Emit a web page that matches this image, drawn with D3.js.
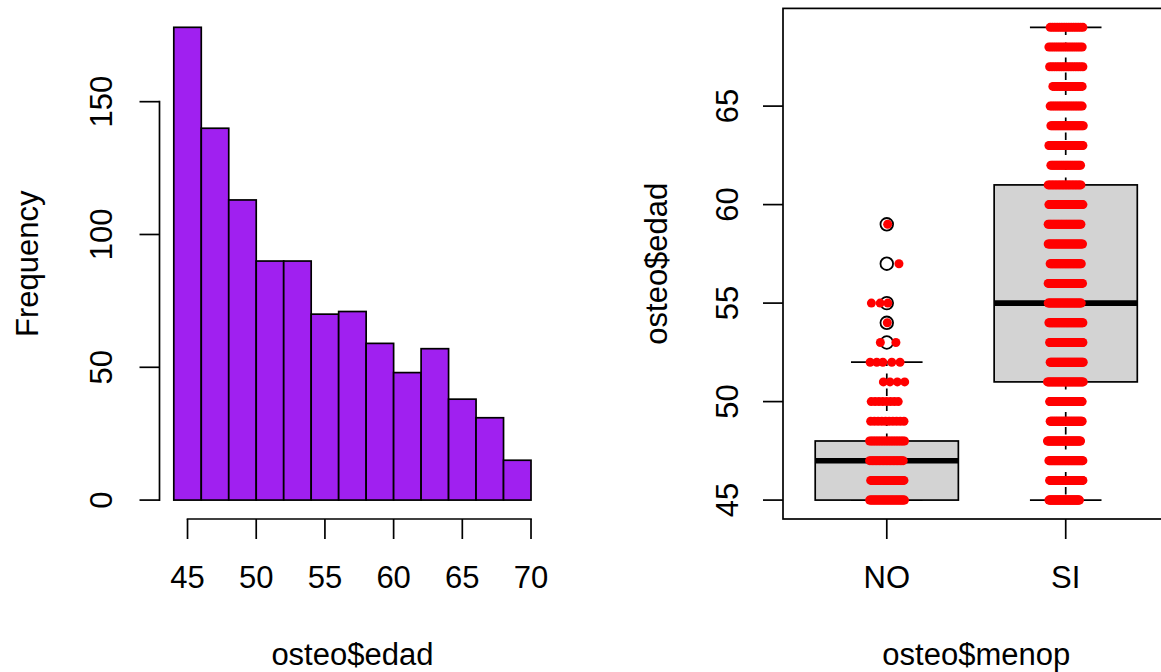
<!DOCTYPE html>
<html>
<head>
<meta charset="utf-8">
<script src="https://cdn.jsdelivr.net/npm/d3@7"></script>
<style>
  html, body { margin: 0; padding: 0; background: #ffffff; }
  svg { display: block; }
  text { font-family: "Liberation Sans", Arial, Helvetica, sans-serif; fill: #000; }
</style>
</head>
<body>
<svg id="chart" width="1161" height="672"></svg>
<script>
// ---------------- DATA ----------------
// Histogram of osteo$edad
const histBreaks = [44, 46, 48, 50, 52, 54, 56, 58, 60, 62, 64, 66, 68, 70];
const histCounts = [178, 140, 113, 90, 90, 70, 71, 59, 48, 57, 38, 31, 15];
const histXTicks = [45, 50, 55, 60, 65, 70];
const histYTicks = [0, 50, 100, 150];

// Boxplot of osteo$edad ~ osteo$menop
const groups = ["NO", "SI"];
const boxLower  = [45, 45];
const boxQ1     = [45, 51];
const boxMedian = [47, 55];
const boxQ3     = [48, 61];
const boxUpper  = [52, 69];
const noOutliers = [53, 54, 55, 57, 59];
const boxYTicks = [45, 50, 55, 60, 65];

// Stripchart points (jittered), group NO: dense rows (count, jitter span)
const noAges   = [45, 46, 47, 48, 49, 50];
const noCounts = [40, 30, 25, 22, 10, 8];
const noJitLo  = [-0.096, -0.090, -0.096, -0.096, -0.090, -0.087];
const noJitHi  = [0.099, 0.096, 0.092, 0.099, 0.096, 0.064];
// group NO: sparse rows, individual jitter offsets
const noSparseAges = [51, 51, 51, 51, 52, 52, 52, 52, 52, 53, 53, 54, 55, 55, 55, 57, 59];
const noSparseJit  = [-0.019, 0.018, 0.059, 0.100, -0.093, -0.056, -0.022, 0.028, 0.074,
                      -0.036, 0.051, 0.003, -0.086, -0.037, 0.006, 0.068, 0.005];

// group SI: dense rows
const siAges   = [45, 46, 47, 48, 49, 50, 51, 52, 53, 54, 55, 56, 57, 58, 59, 60, 61, 62, 63, 64, 65, 66, 67, 68, 69];
const siCounts = [54, 54, 47, 46, 48, 47, 40, 40, 43, 44, 33, 34, 35, 35, 29, 29, 24, 24, 28, 29, 19, 19, 15, 16, 15];
const siJitLo  = [-0.094, -0.090, -0.094, -0.102, -0.087, -0.090, -0.102, -0.087, -0.090, -0.094,
                  -0.098, -0.098, -0.087, -0.098, -0.098, -0.094, -0.098, -0.083, -0.094, -0.083,
                  -0.087, -0.072, -0.090, -0.094, -0.087];
const siJitHi  = [0.077, 0.096, 0.096, 0.083, 0.092, 0.092, 0.098, 0.098, 0.096, 0.096,
                  0.087, 0.094, 0.087, 0.094, 0.085, 0.096, 0.085, 0.083, 0.096, 0.098,
                  0.092, 0.092, 0.096, 0.092, 0.096];

// ---------------- LAYOUT ----------------
const svg = d3.select("#chart");
const FONT = 31;
const LW = 1.7;
const TICK = 20;

const p1 = { left: 159.5, right: 545.3, top: 8.4, bottom: 519 };
const p2 = { left: 783, right: 1169.5, top: 8.4, bottom: 519 };

function ext(lo, hi) { const d = (hi - lo) * 0.04; return [lo - d, hi + d]; }

// ---------------- HISTOGRAM ----------------
const hx = d3.scaleLinear().domain(ext(histBreaks[0], histBreaks[histBreaks.length - 1])).range([p1.left, p1.right]);
const hy = d3.scaleLinear().domain(ext(0, d3.max(histCounts))).range([p1.bottom, p1.top]);

const g1 = svg.append("g");
g1.selectAll("rect.bar").data(histCounts).enter().append("rect")
  .attr("class", "bar")
  .attr("x", (d, i) => hx(histBreaks[i]))
  .attr("width", (d, i) => hx(histBreaks[i + 1]) - hx(histBreaks[i]))
  .attr("y", d => hy(d))
  .attr("height", d => hy(0) - hy(d))
  .attr("fill", "#A020F0")
  .attr("stroke", "#000")
  .attr("stroke-width", LW);

// y axis
g1.append("line")
  .attr("x1", p1.left).attr("x2", p1.left)
  .attr("y1", hy(histYTicks[0])).attr("y2", hy(histYTicks[histYTicks.length - 1]))
  .attr("stroke", "#000").attr("stroke-width", LW).attr("stroke-linecap", "square");
g1.selectAll("line.yt").data(histYTicks).enter().append("line")
  .attr("x1", p1.left - TICK).attr("x2", p1.left)
  .attr("y1", d => hy(d)).attr("y2", d => hy(d))
  .attr("stroke", "#000").attr("stroke-width", LW);
g1.selectAll("text.yl").data(histYTicks).enter().append("text")
  .attr("transform", d => `translate(112,${hy(d)}) rotate(-90)`)
  .attr("text-anchor", "middle")
  .attr("font-size", FONT)
  .text(d => d);

// x axis
g1.append("line")
  .attr("x1", hx(histXTicks[0])).attr("x2", hx(histXTicks[histXTicks.length - 1]))
  .attr("y1", p1.bottom).attr("y2", p1.bottom)
  .attr("stroke", "#000").attr("stroke-width", LW).attr("stroke-linecap", "square");
g1.selectAll("line.xt").data(histXTicks).enter().append("line")
  .attr("x1", d => hx(d)).attr("x2", d => hx(d))
  .attr("y1", p1.bottom).attr("y2", p1.bottom + TICK)
  .attr("stroke", "#000").attr("stroke-width", LW);
g1.selectAll("text.xl").data(histXTicks).enter().append("text")
  .attr("x", d => hx(d)).attr("y", 588)
  .attr("text-anchor", "middle")
  .attr("font-size", FONT)
  .text(d => d);

g1.append("text")
  .attr("x", (p1.left + p1.right) / 2).attr("y", 665)
  .attr("text-anchor", "middle").attr("font-size", FONT)
  .text("osteo$edad");
g1.append("text")
  .attr("transform", `translate(38,${(p1.top + p1.bottom) / 2}) rotate(-90)`)
  .attr("text-anchor", "middle").attr("font-size", FONT)
  .text("Frequency");

// ---------------- BOXPLOT ----------------
const bx = d3.scaleLinear().domain(ext(0.5, 2.5)).range([p2.left, p2.right]);
const by = d3.scaleLinear().domain(ext(45, 69)).range([p2.bottom, p2.top]);
const unit = bx(1) - bx(0);
const boxW = 0.8 * unit;
const capW = 0.4 * unit;

const g2 = svg.append("g");
groups.forEach((grp, i) => {
  const cx = bx(i + 1);
  // whiskers (dashed)
  g2.append("line")
    .attr("x1", cx).attr("x2", cx)
    .attr("y1", by(boxQ3[i])).attr("y2", by(boxUpper[i]))
    .attr("stroke", "#000").attr("stroke-width", LW).attr("stroke-dasharray", "7.5,7.5");
  g2.append("line")
    .attr("x1", cx).attr("x2", cx)
    .attr("y1", by(boxQ1[i])).attr("y2", by(boxLower[i]))
    .attr("stroke", "#000").attr("stroke-width", LW).attr("stroke-dasharray", "7.5,7.5");
  // staples
  [boxUpper[i], boxLower[i]].forEach(v => {
    g2.append("line")
      .attr("x1", cx - capW / 2).attr("x2", cx + capW / 2)
      .attr("y1", by(v)).attr("y2", by(v))
      .attr("stroke", "#000").attr("stroke-width", LW);
  });
  // box
  g2.append("rect")
    .attr("x", cx - boxW / 2).attr("width", boxW)
    .attr("y", by(boxQ3[i])).attr("height", by(boxQ1[i]) - by(boxQ3[i]))
    .attr("fill", "#D3D3D3").attr("stroke", "#000").attr("stroke-width", LW);
  // median
  g2.append("line")
    .attr("x1", cx - boxW / 2).attr("x2", cx + boxW / 2)
    .attr("y1", by(boxMedian[i])).attr("y2", by(boxMedian[i]))
    .attr("stroke", "#000").attr("stroke-width", 5.6);
});
// outliers
g2.selectAll("circle.out").data(noOutliers).enter().append("circle")
  .attr("cx", bx(1)).attr("cy", d => by(d)).attr("r", 6.3)
  .attr("fill", "none").attr("stroke", "#000").attr("stroke-width", 1.8);

// frame
g2.append("rect")
  .attr("x", p2.left).attr("y", p2.top)
  .attr("width", p2.right - p2.left).attr("height", p2.bottom - p2.top)
  .attr("fill", "none").attr("stroke", "#000").attr("stroke-width", LW);

// y axis ticks + labels
g2.selectAll("line.yt").data(boxYTicks).enter().append("line")
  .attr("x1", p2.left - TICK).attr("x2", p2.left)
  .attr("y1", d => by(d)).attr("y2", d => by(d))
  .attr("stroke", "#000").attr("stroke-width", LW);
g2.selectAll("text.yl").data(boxYTicks).enter().append("text")
  .attr("transform", d => `translate(738,${by(d)}) rotate(-90)`)
  .attr("text-anchor", "middle").attr("font-size", FONT)
  .text(d => d);
// x axis ticks + labels
g2.selectAll("line.xt").data(groups).enter().append("line")
  .attr("x1", (d, i) => bx(i + 1)).attr("x2", (d, i) => bx(i + 1))
  .attr("y1", p2.bottom).attr("y2", p2.bottom + TICK)
  .attr("stroke", "#000").attr("stroke-width", LW);
g2.selectAll("text.xl").data(groups).enter().append("text")
  .attr("x", (d, i) => bx(i + 1)).attr("y", 588)
  .attr("text-anchor", "middle").attr("font-size", FONT)
  .text(d => d);

g2.append("text")
  .attr("x", (p2.left + p2.right) / 2).attr("y", 665)
  .attr("text-anchor", "middle").attr("font-size", FONT)
  .text("osteo$menop");
g2.append("text")
  .attr("transform", `translate(667,${(p2.top + p2.bottom) / 2}) rotate(-90)`)
  .attr("text-anchor", "middle").attr("font-size", FONT)
  .text("osteo$edad");

// ---------------- STRIPCHART POINTS ----------------
const pts = [];
function addRows(groupIndex, ages, counts, lo, hi) {
  ages.forEach((a, k) => {
    const n = counts[k];
    for (let j = 0; j < n; j++) {
      const t = n === 1 ? 0.5 : j / (n - 1);
      pts.push({ g: groupIndex, age: a, jit: lo[k] + (hi[k] - lo[k]) * t });
    }
  });
}
addRows(1, noAges, noCounts, noJitLo, noJitHi);
noSparseAges.forEach((a, k) => pts.push({ g: 1, age: a, jit: noSparseJit[k] }));
addRows(2, siAges, siCounts, siJitLo, siJitHi);

g2.selectAll("circle.pt").data(pts).enter().append("circle")
  .attr("cx", d => bx(d.g + d.jit))
  .attr("cy", d => by(d.age))
  .attr("r", 4.5)
  .attr("fill", "#FF0000");
</script>
</body>
</html>
